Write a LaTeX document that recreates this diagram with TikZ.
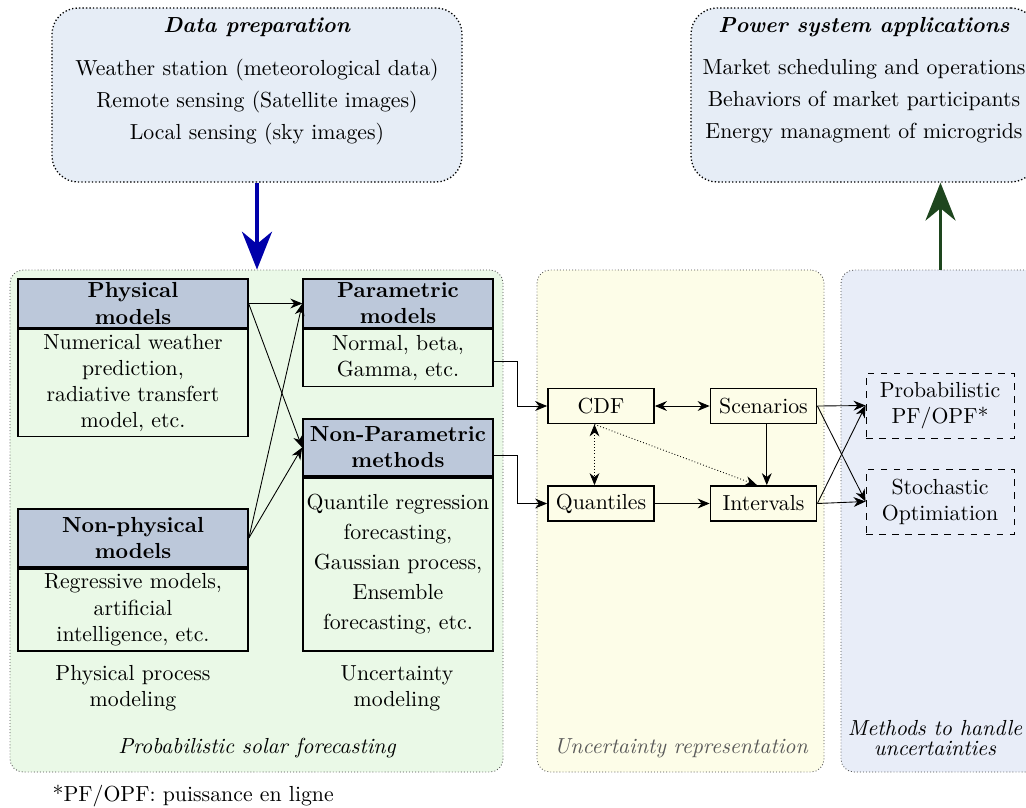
\documentclass[tikz,border=0pt]{standalone}
\usetikzlibrary{positioning,arrows.meta}
\definecolor{headblue}{RGB}{188,200,218}
\definecolor{fcgreen}{RGB}{234,249,231}
\definecolor{repyellow}{RGB}{253,253,232}
\definecolor{methblue}{RGB}{232,237,248}
\definecolor{topblue}{RGB}{230,237,246}
\definecolor{arrowblue}{RGB}{0,0,170}
\definecolor{arrowgreen}{RGB}{30,70,30}
\newlength\pxu
\setlength\pxu{0.459pt}
\begin{document}
\begin{tikzpicture}[
		x=\pxu, y=-\pxu,
		panel/.style={draw=black!70, densely dotted, rounded corners=6pt},
		topbox/.style={draw, densely dotted, semithick, rounded corners=12pt, fill=topblue, minimum height=174*\pxu},
		header/.style={draw, semithick, fill=headblue, font=\bfseries, align=center, inner sep=1pt, minimum height=49*\pxu},
		body/.style={draw, semithick, fill=fcgreen, align=center, inner sep=1pt},
		repbox/.style={draw, thick, minimum width=106*\pxu, minimum height=35*\pxu},
		methodbox/.style={draw, dashed, align=center, minimum width=148*\pxu, minimum height=65*\pxu},
		conn/.style={-{Stealth[length=5.5pt,width=4.5pt]}},
		biconn/.style={{Stealth[length=5.5pt,width=4.5pt]}-{Stealth[length=5.5pt,width=4.5pt]}},
		bigarrow/.style={-{Stealth[length=17.4pt,width=13.8pt]}, line width=1.4pt}
	]
	\useasboundingbox (0,0) rectangle (1026,807);

	% panels
	\node[panel, fill=fcgreen, minimum width=493*\pxu, minimum height=502*\pxu] (forecast) at (256.5,521) {};
	\node[panel, fill=repyellow, minimum width=287*\pxu, minimum height=502*\pxu] (represent) at (680.5,521) {};
	\node[panel, fill=methblue, minimum width=199*\pxu, minimum height=502*\pxu] (methods) at (940.5,521) {};

	\node[font=\itshape] (fclabel) at (257,748) {Probabilistic solar forecasting};
	\node[font=\itshape, text=black!65] (replabel) at (681,748) {Uncertainty representation};
	\node[font=\itshape, align=center] (methlabel) at (935,738) {Methods to handle\\[-2.8pt]uncertainties};

	% top boxes
	\node[topbox, minimum width=410*\pxu] (dataprep) at (257,95) {};
	\node[align=center, anchor=north, inner sep=0pt] (dptext) at (257,17)
		{\textbf{\textit{Data preparation}}\\[7.7pt]
		Weather station (meteorological data)\\[2.7pt]
		Remote sensing (Satellite images)\\[2.7pt]
		Local sensing (sky images)};
	\node[topbox, minimum width=346*\pxu] (apps) at (864,95) {};
	\node[align=center, anchor=north, inner sep=0pt] (apptext) at (864,17)
		{\textbf{\textit{Power system applications}}\\[7.2pt]
		Market scheduling and operations\\[2.7pt]
		Behaviors of market participants\\[2.7pt]
		Energy managment of microgrids};

	\draw[bigarrow, draw=arrowblue] (dataprep.south) -- (dataprep.south |- forecast.north);
	\draw[bigarrow, draw=arrowgreen] (methods.north) -- (methods.north |- apps.south);

	% forecasting models
	\node[header, minimum width=230*\pxu] (phys) at (133,303.5) {Physical\\models};
	\node[body, minimum width=230*\pxu, minimum height=107*\pxu, below=0pt of phys] (physbody)
		{Numerical weather\\prediction,\\radiative transfert\\model, etc.};
	\node[header, thick, minimum width=230*\pxu, minimum height=58*\pxu] (nonphys) at (133,538) {Non-physical\\models};
	\node[body, thick, minimum width=230*\pxu, minimum height=82*\pxu, below=0pt of nonphys] (nonphysbody)
		{Regressive models,\\artificial\\intelligence, etc.};
	\node[header, minimum width=190*\pxu] (param) at (398,303.5) {Parametric\\models};
	\node[body, minimum width=190*\pxu, minimum height=57*\pxu, below=0pt of param] (parambody)
		{Normal, beta,\\Gamma, etc.};
	\node[header, thick, minimum width=190*\pxu, minimum height=57*\pxu] (nonparam) at (398,447.5) {Non-Parametric\\methods};
	\node[body, thick, minimum width=190*\pxu, minimum height=173*\pxu, below=0pt of nonparam] (nonparambody)
		{Quantile regression\\[1.8pt]forecasting,\\[1.8pt]Gaussian process,\\[1.8pt]Ensemble\\[1.8pt]forecasting, etc.};

	\node[align=center] (physlabel) at (133,688) {Physical process\\modeling};
	\node[align=center] (unclabel) at (397,688) {Uncertainty\\modeling};

	\draw[conn] (phys.east) -- (param.west);
	\draw[conn] (phys.east) -- (nonparam.west);
	\draw[conn] (nonphys.east) -- (param.west);
	\draw[conn] (nonphys.east) -- (nonparam.west);

	% uncertainty representation
	\node[repbox] (cdf) at (601,406) {CDF};
	\node[repbox] (scen) at (763.5,406) {Scenarios};
	\node[repbox] (quant) at (601,503.5) {Quantiles};
	\node[repbox] (interv) at (763.5,503.5) {Intervals};

	\draw[conn] ([yshift=-1.5pt]parambody.east) -- ++(24,0) |- (cdf.west);
	\draw[conn] ([yshift=-3.5pt]nonparam.east) -- ++(24,0) |- (quant.west);
	\draw[biconn] (cdf) -- (scen);
	\draw[biconn, densely dotted] ([xshift=-3pt]cdf.south) -- ([xshift=-3pt]quant.north);
	\draw[conn, densely dotted] ([xshift=-3pt]cdf.south) -- ([xshift=-3pt]interv.north);
	\draw[conn] ([xshift=1.5pt]scen.south) -- ([xshift=1.5pt]interv.north);
	\draw[conn] (quant) -- (interv);

	% methods
	\node[methodbox] (pf) at (940,405.5) {Probabilistic\\PF/OPF*};
	\node[methodbox] (stoch) at (940,501.5) {Stochastic\\Optimiation};

	\draw[conn] (scen.east) -- (pf.west);
	\draw[conn] (scen.east) -- (stoch.west);
	\draw[conn] (interv.east) -- (pf.west);
	\draw[conn] (interv.east) -- (stoch.west);

	\node[anchor=west] (note) at (45,796) {*PF/OPF: puissance en ligne};
\end{tikzpicture}
\end{document}
